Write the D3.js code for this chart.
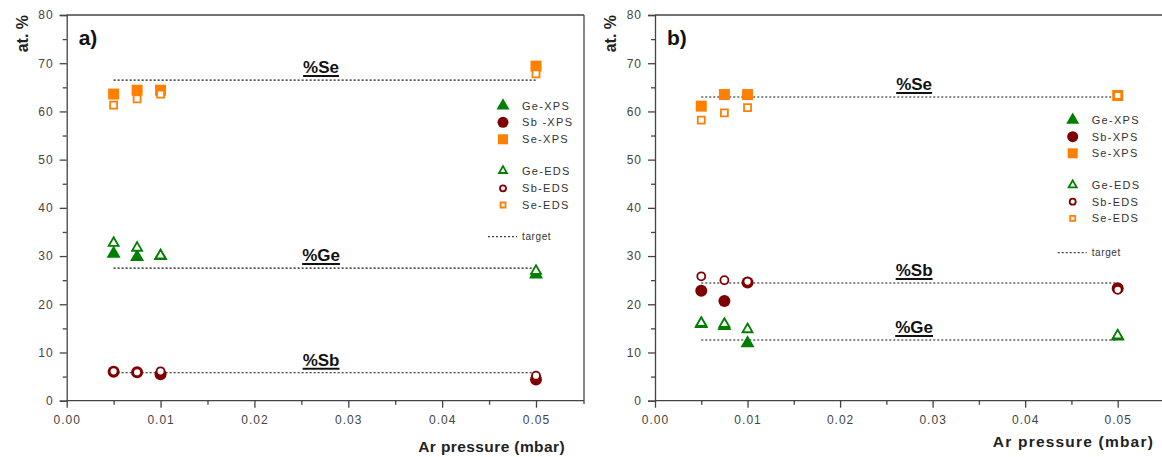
<!DOCTYPE html>
<html>
<head>
<meta charset="utf-8">
<script src="https://cdn.jsdelivr.net/npm/d3@7"></script>
<style>
body { margin: 0; background: #fff; }
text { font-family: Arial, 'Liberation Sans', sans-serif; }
</style>
</head>
<body>
<script>
// Ar pressure (mbar)
var pressure = [0.005, 0.0075, 0.01, 0.05];
var yTicks = [0, 10, 20, 30, 40, 50, 60, 70, 80];
var xTicks = [0, 0.01, 0.02, 0.03, 0.04, 0.05];

// panel a
var geXpsA = [30.5, 29.8, 30.0, 26.2];
var sbXpsA = [6.0, 5.9, 5.5, 4.4];
var seXpsA = [63.6, 64.4, 64.4, 69.4];
var geEdsA = [32.7, 31.7, 30.1, 26.9];
var sbEdsA = [6.1, 5.9, 6.1, 5.2];
var seEdsA = [61.3, 62.6, 63.6, 67.8];
var targetNamesA = ['%Se', '%Ge', '%Sb'];
var targetsA = [66.5, 27.5, 5.8];

// panel b
var geXpsB = [15.9, 15.5, 11.9, 13.3];
var sbXpsB = [22.8, 20.7, 24.5, 23.3];
var seXpsB = [61.1, 63.5, 63.5, 63.3];
var geEdsB = [16.1, 15.9, 14.8, 13.5];
var sbEdsB = [25.8, 25.0, 24.7, 23.0];
var seEdsB = [58.2, 59.7, 60.8, 63.3];
var targetNamesB = ['%Se', '%Sb', '%Ge'];
var targetsB = [63.0, 24.4, 12.6];

var green = '#007f00', red = '#7f0000', orange = '#ff7f00';
var axisCol = '#444';

var svg = d3.select('body').append('svg').attr('width', 1162).attr('height', 457);
svg.append('rect').attr('width', 1162).attr('height', 457).attr('fill', '#fff');

function marker(g, kind, size, col, filled) {
    var sym = kind === 'tri' ? d3.symbolTriangle : kind === 'circ' ? d3.symbolCircle : d3.symbolSquare;
    var area = kind === 'tri' ? size * size * 0.433 : kind === 'circ' ? Math.PI * size * size / 4 : size * size;
    var p = g.append('path').attr('d', d3.symbol().type(sym).size(area)());
    if (filled) p.attr('fill', col);
    else p.attr('fill', '#fff').attr('stroke', col).attr('stroke-width', 1.8);
    return p;
}

function drawPanel(o) {
    var g = svg.append('g');
    var x = d3.scaleLinear().domain([0, 0.05]).range([o.x0, o.x5]);
    var y = d3.scaleLinear().domain([0, 80]).range([400.7, 15]);

    // frame
    g.append('line').attr('x1', o.x0).attr('x2', o.right).attr('y1', 15).attr('y2', 15)
        .attr('stroke', axisCol).attr('stroke-width', 1.3);
    if (o.rightBorder) {
        g.append('line').attr('x1', o.right).attr('x2', o.right).attr('y1', 15).attr('y2', 404)
            .attr('stroke', axisCol).attr('stroke-width', 1.3);
    }

    // y axis
    var ya = d3.axisLeft(y).tickValues(yTicks).tickSize(7).tickPadding(6).tickFormat(d3.format('d'));
    var yg = g.append('g').attr('transform', 'translate(' + o.x0 + ',0)').call(ya);
    var yMinor = d3.axisLeft(y).tickValues(d3.range(5, 80, 10)).tickSize(4).tickFormat('');
    var ym = g.append('g').attr('transform', 'translate(' + o.x0 + ',0)').call(yMinor);
    ym.select('.domain').remove();

    // x axis
    var xa = d3.axisBottom(x).tickValues(xTicks).tickSize(7).tickPadding(8).tickFormat(d3.format('.2f'));
    var xg = g.append('g').attr('transform', 'translate(0,400.7)').call(xa);
    xg.select('.domain').attr('d', 'M' + o.x0 + ',0H' + o.right);
    var xMinor = d3.axisBottom(x).tickValues(d3.range(0.005, 0.05, 0.01)).tickSize(4).tickFormat('');
    var xm = g.append('g').attr('transform', 'translate(0,400.7)').call(xMinor);
    xm.select('.domain').remove();

    [yg, ym, xg, xm].forEach(function (s) {
        s.selectAll('path,line').attr('stroke', axisCol).attr('stroke-width', 1.3);
        s.selectAll('text').attr('fill', '#444').attr('font-size', 12).style('letter-spacing', '1px')
            .attr('font-family', 'Arial, Liberation Sans, sans-serif');
    });

    // titles
    g.append('text').attr('transform', 'translate(' + (o.x0 - 39) + ',15) rotate(-90)')
        .attr('text-anchor', 'end').attr('font-size', 16).attr('font-weight', 'bold')
        .attr('fill', '#222').text('at. %');
    g.append('text').attr('x', o.titleRight).attr('y', o.titleY).attr('text-anchor', 'end')
        .attr('font-size', 15.5).attr('font-weight', 'bold').attr('fill', '#222')
        .style('letter-spacing', o.titleSpacing).text('Ar pressure (mbar)');
    g.append('text').attr('x', o.x0 + 12).attr('y', 45).attr('font-size', 21)
        .attr('font-weight', 'bold').attr('fill', '#111').text(o.tag);

    // target lines and labels
    o.targets.forEach(function (t, i) {
        g.append('line').attr('x1', x(0.005)).attr('x2', x(0.05)).attr('y1', y(t)).attr('y2', y(t))
            .attr('stroke', '#111').attr('stroke-width', 1.1).attr('stroke-dasharray', '2,2');
        var ty = y(t) - 7;
        var lab = g.append('text').attr('x', x(o.labelX)).attr('y', ty).attr('text-anchor', 'middle')
            .attr('font-size', 17).attr('font-weight', 'bold').attr('fill', '#111').text(o.names[i]);
        var bb = lab.node().getBBox();
        g.append('line').attr('x1', bb.x).attr('x2', bb.x + bb.width).attr('y1', ty + 3).attr('y2', ty + 3)
            .attr('stroke', '#111').attr('stroke-width', 2);
    });

    // data: XPS filled, EDS open on top
    var series = [
        { v: o.geXps, k: 'tri', c: green, f: true, s: 14 },
        { v: o.sbXps, k: 'circ', c: red, f: true, s: 12 },
        { v: o.seXps, k: 'sq', c: orange, f: true, s: 11 },
        { v: o.geEds, k: 'tri', c: green, f: false, s: 10 },
        { v: o.sbEds, k: 'circ', c: red, f: false, s: 8 },
        { v: o.seEds, k: 'sq', c: orange, f: false, s: 7 }
    ];
    series.forEach(function (s) {
        s.v.forEach(function (val, i) {
            marker(g, s.k, s.s, s.c, s.f)
                .attr('transform', 'translate(' + x(pressure[i]) + ',' + y(val) + ')');
        });
    });

    // legend
    var lg = g.append('g');
    o.legendNames.forEach(function (n, i) {
        var s = series[i];
        var ly = o.legY[i];
        var sz = s.f ? s.s - 1 : s.s - 2;
        marker(lg, s.k, sz, s.c, s.f).attr('transform', 'translate(' + o.legX + ',' + ly + ')');
        lg.append('text').attr('x', o.legX + 19).attr('y', ly + 4).attr('font-size', 11)
            .attr('fill', '#333').style('letter-spacing', '1.3px').text(n);
    });
    var tly = o.legY[6];
    lg.append('line').attr('x1', o.legX - 15).attr('x2', o.legX + 14).attr('y1', tly).attr('y2', tly)
        .attr('stroke', '#111').attr('stroke-width', 1).attr('stroke-dasharray', '2,2');
    lg.append('text').attr('x', o.legX + 19).attr('y', tly + 3.5).attr('font-size', 10)
        .attr('fill', '#333').style('letter-spacing', '0.6px').text('target');
}

drawPanel({
    x0: 66.7, x5: 536, right: 584, rightBorder: true, tag: 'a)',
    titleRight: 565, titleY: 452, titleSpacing: '0.4px',
    targets: targetsA, names: targetNamesA, labelX: 0.0271,
    geXps: geXpsA, sbXps: sbXpsA, seXps: seXpsA, geEds: geEdsA, sbEds: sbEdsA, seEds: seEdsA,
    legendNames: ['Ge-XPS', 'Sb -XPS', 'Se-XPS', 'Ge-EDS', 'Sb-EDS', 'Se-EDS'],
    legX: 503, legY: [105.7, 122.3, 139.3, 170.7, 188.3, 205, 236.7]
});

drawPanel({
    x0: 655, x5: 1117.7, right: 1162, rightBorder: false, tag: 'b)',
    titleRight: 1154, titleY: 447, titleSpacing: '1.2px',
    targets: targetsB, names: targetNamesB, labelX: 0.028,
    geXps: geXpsB, sbXps: sbXpsB, seXps: seXpsB, geEds: geEdsB, sbEds: sbEdsB, seEds: seEdsB,
    legendNames: ['Ge-XPS', 'Sb-XPS', 'Se-XPS', 'Ge-EDS', 'Sb-EDS', 'Se-EDS'],
    legX: 1072.7, legY: [120, 136.7, 153.3, 185, 201.7, 218.3, 252.7]
});
</script>
</body>
</html>
